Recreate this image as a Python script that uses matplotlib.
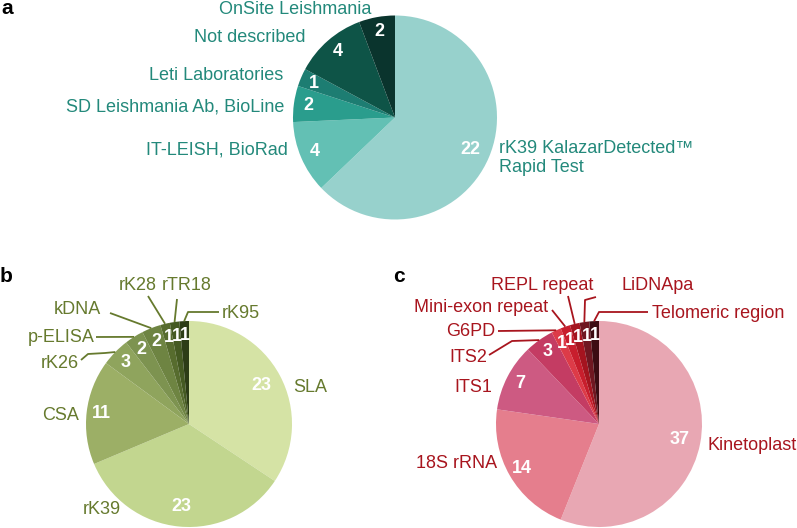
import numpy as np
import matplotlib.pyplot as plt

plt.rcParams['font.family'] = ['Liberation Sans', 'DejaVu Sans']

# ---------------- data ----------------
a_labels = ["rK39 KalazarDetected™\nRapid Test", "IT-LEISH, BioRad", "SD Leishmania Ab, BioLine",
            "Leti Laboratories", "Not described", "OnSite Leishmania"]
a_values = [22, 4, 2, 1, 4, 2]
a_colors = ["#97d1cc", "#63c0b4", "#2a9d8d", "#1d7d72", "#0e5447", "#0a342d"]

b_labels = ["SLA", "rK39", "CSA", "rK26", "p-ELISA", "kDNA", "rK28", "rTR18", "rK95"]
b_values = [23, 23, 11, 3, 2, 2, 1, 1, 1]
b_colors = ["#d5e3a5", "#c2d68f", "#9caf66", "#8fa45d", "#7d9350", "#6e8442",
            "#576c2e", "#455a22", "#2d3d16"]

c_labels = ["Kinetoplast", "18S rRNA", "ITS1", "ITS2", "G6PD", "Mini-exon repeat",
            "REPL repeat", "LiDNApa", "Telomeric region"]
c_values = [37, 14, 7, 3, 1, 1, 1, 1, 1]
c_colors = ["#e8a7b3", "#e57e8d", "#cd5a82", "#c43c63", "#dd3b48", "#c81e2d",
            "#a5141f", "#701721", "#3d0c13"]

W, H = 797, 528
fig = plt.figure(figsize=(W / 100, H / 100), dpi=100)
ax = fig.add_axes([0, 0, 1, 1])


def P(x, y):
    # pixel coords (top-left origin) -> data coords
    return x, H - y


def draw_pie(vals, colors, cx, cy, R):
    wedges, _ = ax.pie(vals, colors=colors, startangle=90, counterclock=False,
                       center=P(cx, cy), radius=R, wedgeprops=dict(linewidth=0))
    for w, v in zip(wedges, vals):
        t = np.deg2rad((w.theta1 + w.theta2) / 2)
        d = 0.8 * R if v >= 20 else 0.86 * R
        x, y = w.center[0] + d * np.cos(t), w.center[1] + d * np.sin(t)
        ax.text(x, y, str(v), color="white", fontsize=13, fontweight="bold",
                ha="center", va="center")
    return wedges


def edge(w, R):
    t = np.deg2rad((w.theta1 + w.theta2) / 2)
    return w.center[0] + R * np.cos(t), w.center[1] + R * np.sin(t)


def label(text, x, y, ha, color, path=None, w=None, R=None):
    ax.text(*P(x, y), text, ha=ha, va="center", color=color, fontsize=13,
            linespacing=1.1)
    if path is not None:
        pts = [P(px, py) for px, py in path] + [edge(w, R)]
        xs, ys = zip(*pts)
        ax.plot(xs, ys, color=color, lw=1.3, solid_capstyle="butt")


# ---------------- pie a ----------------
ca = "#23897b"
R = 102
wa = draw_pie(a_values, a_colors, 395, 117.5, R)
label(a_labels[0], 499, 158, "left", ca)
label(a_labels[1], 288, 150, "right", ca)
label(a_labels[2], 284, 107, "right", ca)
label(a_labels[3], 283, 76, "right", ca)
label(a_labels[4], 306, 38, "right", ca)
label(a_labels[5], 295, 9, "center", ca)

# ---------------- pie b ----------------
cb = "#667a2e"
R = 103
wb = draw_pie(b_values, b_colors, 189, 424, R)
label(b_labels[0], 293, 387, "left", cb)
label(b_labels[1], 83, 510, "left", cb)
label(b_labels[2], 79, 416, "right", cb)
label(b_labels[3], 79, 363, "right", cb, [(81, 360), (88, 354), (105, 353)], wb[3], R)
label(b_labels[4], 95, 338, "right", cb, [(96, 337)], wb[4], R)
label(b_labels[5], 101, 310, "right", cb, [(110, 313)], wb[5], R)
label(b_labels[6], 138, 285, "center", cb, [(148, 296)], wb[6], R)
label(b_labels[7], 187, 285, "center", cb, [(177, 299)], wb[7], R)
label(b_labels[8], 222, 313, "left", cb, [(219, 312), (188, 312)], wb[8], R)

# ---------------- pie c ----------------
cc = "#a8151e"
wc = draw_pie(c_values, c_colors, 599, 424, R)
label(c_labels[0], 708, 445, "left", cc)
label(c_labels[1], 497, 463, "right", cc)
label(c_labels[2], 492, 387, "right", cc)
label(c_labels[3], 487, 357, "right", cc, [(489, 355), (512, 341)], wc[3], R)
label(c_labels[4], 495, 332, "right", cc, [(498, 331)], wc[4], R)
label(c_labels[5], 548, 308, "right", cc, [(552, 310)], wc[5], R)
label(c_labels[6], 542, 285, "center", cc, [(568, 296)], wc[6], R)
label(c_labels[7], 658, 285, "center", cc, [(596, 297), (585, 300)], wc[7], R)
label(c_labels[8], 652, 313, "left", cc, [(648, 312), (599, 312)], wc[8], R)

# panel letters
ax.text(*P(1, 8), "a", fontsize=15, fontweight="bold", ha="left", va="center")
ax.text(*P(0, 276), "b", fontsize=15, fontweight="bold", ha="left", va="center")
ax.text(*P(393, 276), "c", fontsize=15, fontweight="bold", ha="left", va="center")

ax.set_xlim(0, W)
ax.set_ylim(0, H)
ax.set_aspect("equal")
ax.axis("off")

fig.savefig("out.png", dpi=100)
